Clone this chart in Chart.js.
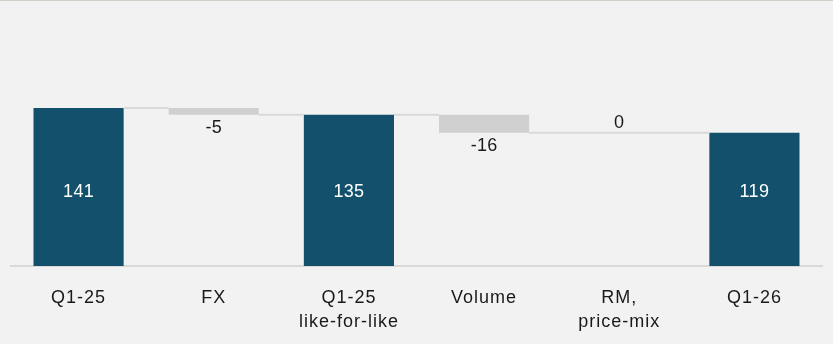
<!DOCTYPE html>
<html>
<head>
<meta charset="utf-8">
<script src="https://cdn.jsdelivr.net/npm/chart.js@4"></script>
<style>
	html, body { margin: 0; padding: 0; background: #f2f2f2; }
	#wrap { width: 833px; height: 344px; position: relative; border-top: 1px solid #d3cdc7; box-sizing: border-box; }
</style>
</head>
<body>
<div id="wrap"><canvas id="myChart"></canvas></div>
<script>
// waterfall values
const categories = [['Q1-25'], ['FX'], ['Q1-25', 'like-for-like'], ['Volume'], ['RM,', 'price-mix'], ['Q1-26']];
const barFrom = [0, 141, 0, 135, 119, 0];
const barTo = [141, 135, 135, 119, 119, 119];
const valueLabels = ['141', '-5', '135', '-16', '0', '119'];
const isTotal = [true, false, true, false, false, true];

const DARK = '#12506b';
const GREY = '#d0d0d0';
const LINE = '#d9d9d9';
const FONT = "'Liberation Sans', Arial, sans-serif";

// wider tracking like the original deck font
const spacingPlugin = {
	id: 'spacing',
	beforeDraw: function(chart) {
		chart.ctx.letterSpacing = '1px';
	}
};

// connectors between bars + value labels
const waterfallPlugin = {
	id: 'waterfall',
	afterDatasetsDraw: function(chart) {
		let ctx = chart.ctx;
		let meta = chart.getDatasetMeta(0);
		let y = chart.scales.y;
		ctx.save();
		ctx.strokeStyle = LINE;
		ctx.lineWidth = 2;
		for (let i = 0; i < meta.data.length; i++) {
			let bar = meta.data[i];
			let half = bar.width / 2;
			let lvl = y.getPixelForValue(barTo[i]);
			if (!isTotal[i] && barFrom[i] === barTo[i]) {
				ctx.beginPath();
				ctx.moveTo(bar.x - half, lvl);
				ctx.lineTo(bar.x + half, lvl);
				ctx.stroke();
			}
			if (i < meta.data.length - 1) {
				let next = meta.data[i + 1];
				ctx.beginPath();
				ctx.moveTo(bar.x + half, lvl);
				ctx.lineTo(next.x - next.width / 2, lvl);
				ctx.stroke();
			}
		}
		ctx.font = '18px ' + FONT;
		ctx.letterSpacing = '0.3px';
		ctx.textAlign = 'center';
		ctx.textBaseline = 'middle';
		for (let i = 0; i < meta.data.length; i++) {
			let bar = meta.data[i];
			if (isTotal[i]) {
				ctx.fillStyle = '#ffffff';
				ctx.fillText(valueLabels[i], bar.x, y.getPixelForValue(66));
			} else if (barTo[i] < barFrom[i]) {
				ctx.fillStyle = '#1a1a1a';
				ctx.fillText(valueLabels[i], bar.x, y.getPixelForValue(barTo[i]) + 13);
			} else {
				ctx.fillStyle = '#1a1a1a';
				ctx.fillText(valueLabels[i], bar.x, y.getPixelForValue(barTo[i]) - 10);
			}
		}
		ctx.restore();
	}
};

let ctx = document.getElementById('myChart').getContext('2d');

let chart = new Chart(ctx, {
	type: 'bar',
	data: {
		labels: categories,
		datasets: [{
			data: barFrom.map(function(v, i) { return [v, barTo[i]]; }),
			backgroundColor: isTotal.map(function(t) { return t ? DARK : GREY; }),
			borderWidth: 0,
			borderSkipped: false,
			categoryPercentage: 1,
			barPercentage: 0.667
		}]
	},
	options: {
		responsive: true,
		maintainAspectRatio: false,
		animation: false,
		layout: { padding: { top: 41, left: 11, right: 11, bottom: 8 } },
		plugins: {
			legend: { display: false },
			tooltip: { enabled: false }
		},
		scales: {
			x: {
				grid: { display: false, drawTicks: false },
				border: { display: true, color: LINE, width: 2 },
				ticks: {
					color: '#1a1a1a',
					padding: 21,
					font: { family: FONT, size: 18, lineHeight: 1.28 },
					maxRotation: 0,
					autoSkip: false
				},
				afterFit: function(scale) {
					scale.height = 70;
				}
			},
			y: {
				display: false,
				min: 0,
				max: 200
			}
		}
	},
	plugins: [spacingPlugin, waterfallPlugin]
});
</script>
</body>
</html>
